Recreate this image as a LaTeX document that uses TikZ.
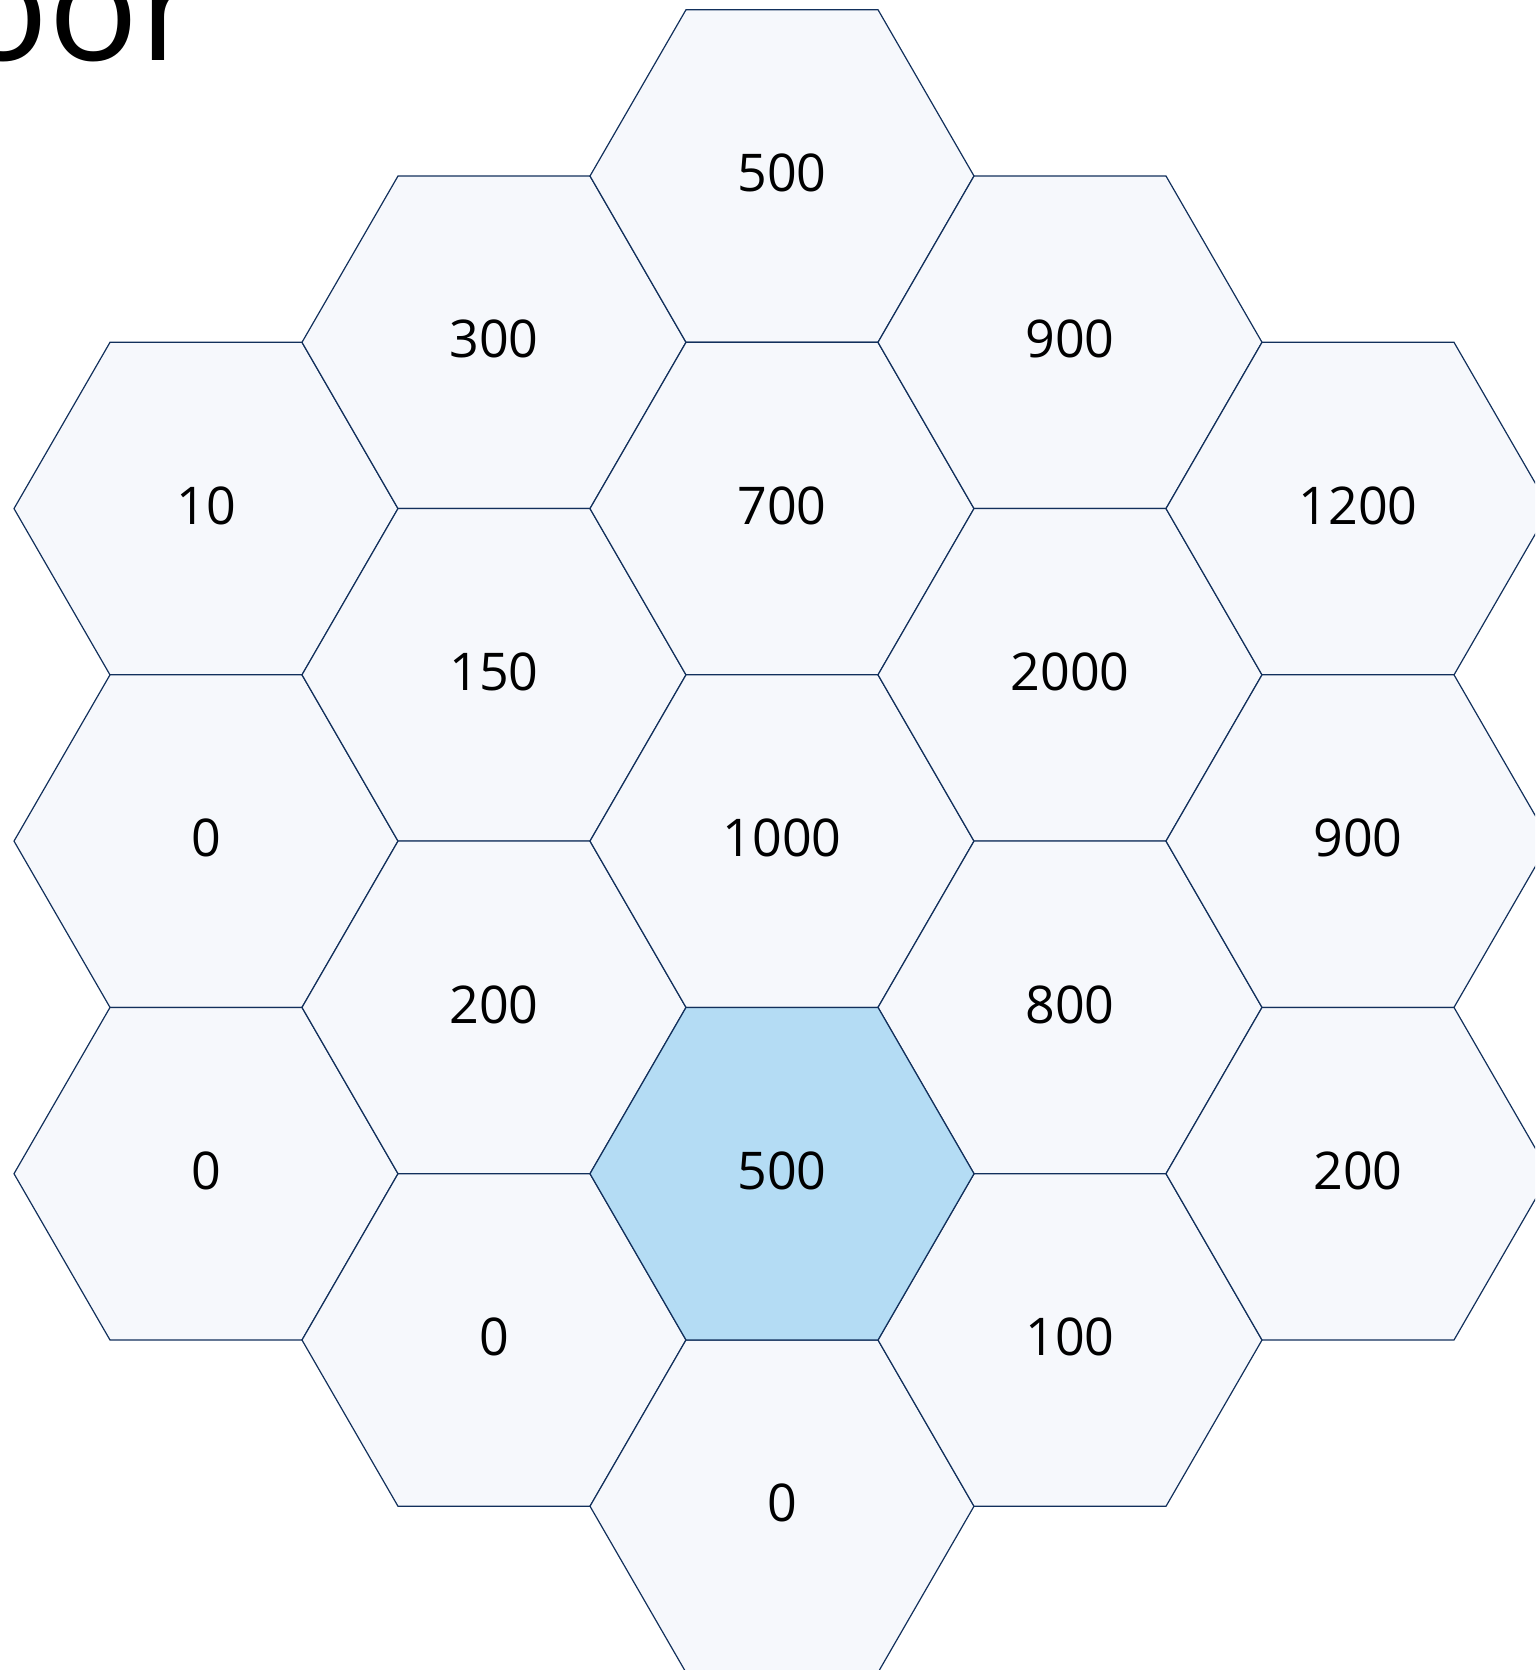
\documentclass[tikz,border=0pt]{standalone}
\usepackage{fontspec}
\setmainfont{Open Sans}
\definecolor{hexfill}{RGB}{246,248,252}
\definecolor{hexhi}{RGB}{180,220,244}
\definecolor{hexstroke}{RGB}{18,48,92}
\tikzset{
  hexline/.style={draw=hexstroke,line width=1.2pt,line join=miter,fill=hexfill},
  hexhl/.style={fill=hexhi},
  hexlabel/.style={inner sep=0pt,font=\fontsize{52}{60}\selectfont,text=black},
  bigtext/.style={inner sep=0pt,anchor=base west,font=\fontsize{150}{160}\selectfont,text=black}
}
\newcommand\hexcell[5]{%
  \draw[hexline,#5] (#2-192,#3) -- (#2-96,#3-166.28) -- (#2+96,#3-166.28) -- (#2+192,#3) -- (#2+96,#3+166.28) -- (#2-96,#3+166.28) -- cycle;
  \node[hexlabel] (#1) at (#2,#3-3) {#4};}
\begin{document}
\begin{tikzpicture}[x=1pt,y=-1pt]
\useasboundingbox (0,0) rectangle (1535,1670);
\clip (0,0) rectangle (1535,1670);
% column 0
\hexcell{a0}{206}{508.6}{10}{}
\hexcell{a1}{206}{841.1}{0}{}
\hexcell{a2}{206}{1173.7}{0}{}
% column 1
\hexcell{b0}{494}{342.3}{300}{}
\hexcell{b1}{494}{674.8}{150}{}
\hexcell{b2}{494}{1007.4}{200}{}
\hexcell{b3}{494}{1340}{0}{}
% column 2
\hexcell{c0}{782}{176}{500}{}
\hexcell{c1}{782}{508.6}{700}{}
\hexcell{c2}{782}{841.1}{1000}{}
\hexcell{c4}{782}{1506.2}{0}{}
% column 3
\hexcell{d0}{1070}{342.3}{900}{}
\hexcell{d1}{1070}{674.8}{2000}{}
\hexcell{d2}{1070}{1007.4}{800}{}
\hexcell{d3}{1070}{1340}{100}{}
% column 4
\hexcell{e0}{1358}{508.6}{1200}{}
\hexcell{e1}{1358}{841.1}{900}{}
\hexcell{e2}{1358}{1173.7}{200}{}
% highlighted cell
\hexcell{c3}{782}{1173.7}{500}{hexhl}
% partial title
\node[bigtext] (title) at (-42,60) {oor};
\end{tikzpicture}
\end{document}
